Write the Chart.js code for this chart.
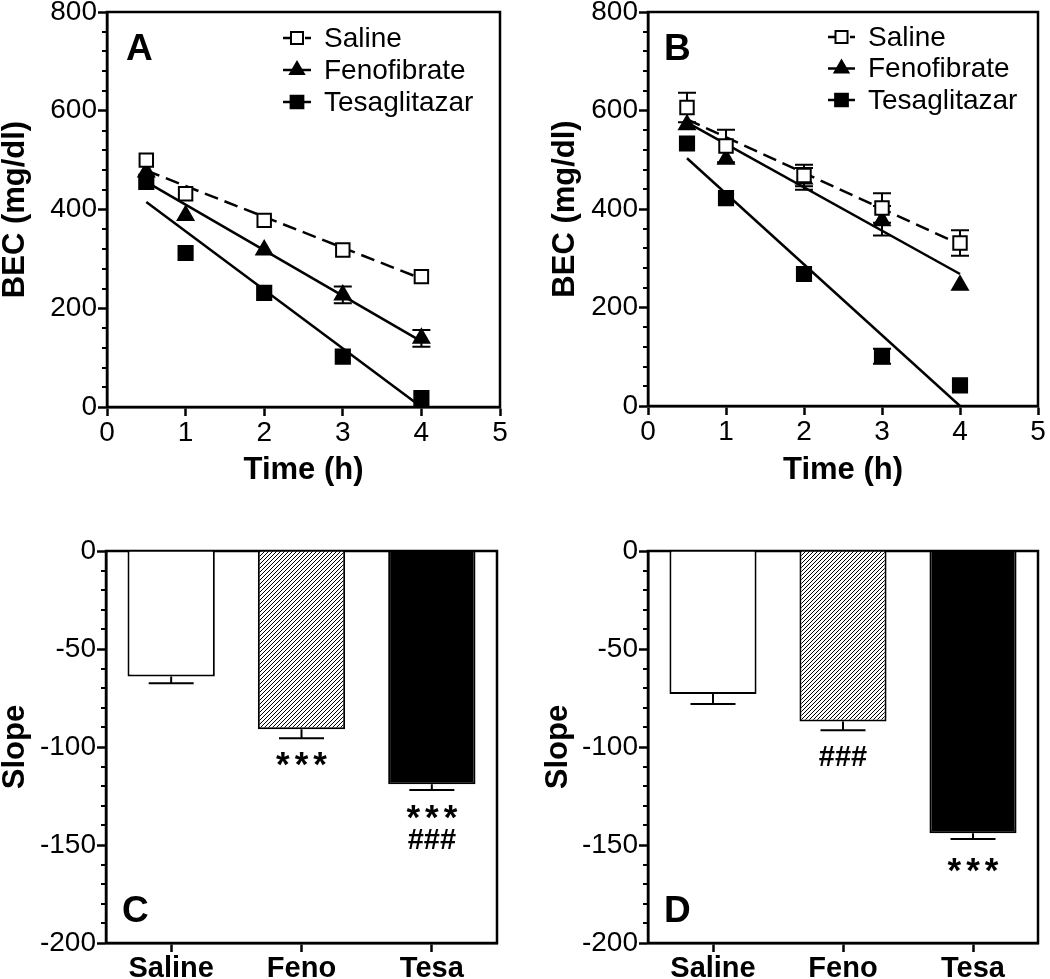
<!DOCTYPE html>
<html>
<head>
<meta charset="utf-8">
<script src="https://cdn.jsdelivr.net/npm/chart.js@4.4.1/dist/chart.umd.min.js"></script>
<style>
  html, body { margin: 0; padding: 0; background: #fff; }
  #wrap { position: relative; width: 1050px; height: 979px; overflow: hidden; }
  .panel { position: absolute; }
  .panel canvas { display: block; }
</style>
</head>
<body>
<div id="wrap">
  <div class="panel" style="left:0;top:0"><canvas id="panelA" width="525" height="500"></canvas></div>
  <div class="panel" style="left:525px;top:0"><canvas id="panelB" width="525" height="500"></canvas></div>
  <div class="panel" style="left:0;top:500px"><canvas id="panelC" width="525" height="479"></canvas></div>
  <div class="panel" style="left:525px;top:500px"><canvas id="panelD" width="525" height="479"></canvas></div>
</div>
<script>
// ---- data ----
const times = [0.5, 1, 2, 3, 4];
const groups = ['Saline', 'Fenofibrate', 'Tesaglitazar'];
const fitX = [0.5, 4];

// panel A: blood ethanol (mg/dl)
const salineA = [500, 432, 378, 318, 264];
const fenoA   = [476, 388, 318, 227, 139];
const tesaA   = [456, 312, 231, 102, 18];
const salineA_sem = [0, 0, 0, 0, 0];
const fenoA_sem   = [0, 0, 0, 17, 17];
const tesaA_sem   = [0, 0, 0, 0, 0];
const salineA_fit = [479, 260];
const fenoA_fit   = [456, 133];
const tesaA_fit   = [415, 0];

// panel B
const salineB = [606, 528, 468, 402, 331];
const fenoB   = [571, 501, 461, 376, 245];
const tesaB   = [533, 422, 268, 101, 42];
const salineB_sem = [30, 33, 22, 30, 26];
const fenoB_sem   = [0, 0, 22, 30, 0];
const tesaB_sem   = [0, 0, 0, 15, 0];
const salineB_fit = [582, 328];
const fenoB_fit   = [576, 268];
const tesaB_fit   = [503, 0];

// panels C / D: elimination slope
const barLabels = ['Saline', 'Feno', 'Tesa'];
const slopeC     = [-64, -91, -119];
const slopeC_sem = [3.5, 4.5, 3];
const slopeD     = [-73, -87, -144];
const slopeD_sem = [5, 4.5, 3];

// significance marks: [bar index, value at glyph centre, text]
const marksC = [[1, -106, '***'], [2, -133, '***'], [2, -147, '###']];
const marksD = [[1, -104.5, '###'], [2, -160, '***']];

// ---- helpers ----
const FONT = '"Liberation Sans", Arial, Helvetica, sans-serif';
const AXIS_W = 2.5;

function hatch() {
    const c = document.createElement('canvas');
    c.width = 4; c.height = 4;
    const g = c.getContext('2d');
    g.fillStyle = '#fff';
    g.fillRect(0, 0, 4, 4);
    g.strokeStyle = '#000';
    g.lineWidth = 1;
    g.beginPath();
    g.moveTo(-1, 5); g.lineTo(5, -1);
    g.moveTo(-1, 1); g.lineTo(1, -1);
    g.moveTo(3, 5); g.lineTo(5, 3);
    g.stroke();
    return g.createPattern(c, 'repeat');
}

// plot box drawn on all four sides
const framePlugin = {
    id: 'frame',
    beforeDatasetsDraw(chart) {
        const { ctx, chartArea: a } = chart;
        ctx.save();
        ctx.strokeStyle = '#000';
        ctx.lineWidth = AXIS_W;
        ctx.strokeRect(a.left, a.top, a.right - a.left, a.bottom - a.top);
        ctx.restore();
    }
};

// short unlabeled ticks on the y axis
const minorPlugin = {
    id: 'minorTicks',
    afterDraw(chart, args, opts) {
        if (!opts.step) return;
        const { ctx, chartArea: a } = chart;
        const y = chart.scales.y;
        ctx.save();
        ctx.strokeStyle = '#000';
        ctx.lineWidth = 2;
        for (let v = y.min; v <= y.max + 1e-9; v += opts.step) {
            if (Math.abs(v % opts.major) < 1e-9) continue;
            const py = Math.round(y.getPixelForValue(v));
            ctx.beginPath();
            ctx.moveTo(a.left - opts.len, py);
            ctx.lineTo(a.left, py);
            ctx.stroke();
        }
        ctx.restore();
    }
};

// SEM whiskers from dataset.sem
function drawWhiskers(chart, opts) {
    const { ctx } = chart;
    const y = chart.scales.y;
    ctx.save();
    ctx.strokeStyle = '#000';
    ctx.lineWidth = 2;
    chart.data.datasets.forEach((ds, di) => {
        if (!ds.sem) return;
        const meta = chart.getDatasetMeta(di);
        meta.data.forEach((el, i) => {
            const s = ds.sem[i];
            if (!s) return;
            const v = ds.data[i].y !== undefined ? ds.data[i].y : ds.data[i];
            const x = el.x;
            const ends = opts.bothSides ? [v + s, v - s] : [v < 0 ? v - s : v + s];
            const from = y.getPixelForValue(v);
            ends.forEach(e => {
                const py = y.getPixelForValue(e);
                ctx.beginPath();
                ctx.moveTo(x, from); ctx.lineTo(x, py);
                ctx.moveTo(x - opts.cap / 2, py); ctx.lineTo(x + opts.cap / 2, py);
                ctx.stroke();
            });
        });
    });
    ctx.restore();
}

const errorPlugin = {
    id: 'errorBars',
    // points: whiskers under the markers; bars: on top of the fill
    beforeDatasetsDraw(chart, args, opts) { if (opts.bothSides) drawWhiskers(chart, opts); },
    afterDatasetsDraw(chart, args, opts) { if (!opts.bothSides) drawWhiskers(chart, opts); }
};

// panel letter, legend, significance marks
const decoPlugin = {
    id: 'deco',
    afterDraw(chart, args, opts) {
        const { ctx } = chart;
        ctx.save();
        ctx.fillStyle = '#000';
        if (opts.letter) {
            ctx.font = 'bold 37px ' + FONT;
            ctx.textBaseline = 'alphabetic';
            ctx.fillText(opts.letter[0], opts.letter[1], opts.letter[2]);
        }
        if (opts.legend) {
            const L = opts.legend;
            ctx.font = '28px ' + FONT;
            ctx.textBaseline = 'middle';
            L.styles.forEach((st, i) => {
                const yy = L.y + i * L.row;
                ctx.strokeStyle = '#000';
                ctx.lineWidth = 2.5;
                ctx.setLineDash(st.dash.length ? [7, 4] : []);
                ctx.beginPath();
                ctx.moveTo(L.x0, yy); ctx.lineTo(L.x1, yy);
                ctx.stroke();
                ctx.setLineDash([]);
                ctx.fillStyle = st.fill;
                ctx.lineWidth = 2;
                Chart.helpers.drawPoint(ctx, { pointStyle: st.pointStyle, radius: st.radius - 1, rotation: 0, borderWidth: 2 },
                    (L.x0 + L.x1) / 2, yy);
                ctx.fillStyle = '#000';
                ctx.fillText(groups[i], L.tx, yy + 1);
            });
        }
        if (opts.marks) {
            const y = chart.scales.y, x = chart.scales.x;
            opts.marks.forEach(([bi, v, txt]) => {
                const star = txt[0] === '*';
                ctx.font = star ? 'bold 35px ' + FONT : 'bold 29px ' + FONT;
                ctx.letterSpacing = star ? '5px' : '0px';
                ctx.textAlign = 'center';
                ctx.textBaseline = 'alphabetic';
                const m = ctx.measureText(txt);
                const cy = y.getPixelForValue(v);
                const base = cy + (m.actualBoundingBoxAscent - m.actualBoundingBoxDescent) / 2;
                ctx.fillText(txt, x.getPixelForValue(bi) + (star ? 2.5 : 0), base);
            });
        }
        ctx.restore();
    }
};

function fixedArea(area, W, H) {
    return {
        layout: { padding: { left: 0, top: area.top, right: W - area.right, bottom: 0 } },
        yFit: s => { s.width = area.left; s.paddingTop = 0; s.paddingBottom = 0; },
        xFit: s => { s.height = H - area.bottom; s.paddingLeft = 0; s.paddingRight = 0; }
    };
}

function axisCommon(fit) {
    return {
        grid: { drawOnChartArea: false, drawTicks: true, tickLength: 9, tickWidth: AXIS_W, tickColor: '#000' },
        border: { display: true, color: '#000', width: AXIS_W },
        afterFit: fit
    };
}

const styles = [
    { pointStyle: 'rect', radius: 9.5, fill: '#fff', dash: [14, 7] },
    { pointStyle: 'triangle', radius: 9, fill: '#000', dash: [] },
    { pointStyle: 'rect', radius: 10, fill: '#000', dash: [] }
];

function timeChart(id, sets, sems, fits, area, titlePad, letter, legend) {
    const W = 525, H = 500;
    const f = fixedArea(area, W, H);
    const datasets = [];
    sets.forEach((vals, g) => {
        datasets.push({
            data: times.map((t, i) => ({ x: t, y: vals[i] })),
            sem: sems[g],
            pointStyle: styles[g].pointStyle,
            pointRadius: styles[g].radius,
            pointBackgroundColor: styles[g].fill,
            pointBorderColor: '#000',
            pointBorderWidth: 2,
            showLine: false
        });
    });
    fits.forEach((fv, g) => {
        datasets.push({
            data: fitX.map((t, i) => ({ x: t, y: fv[i] })),
            showLine: true,
            borderColor: '#000',
            borderWidth: 2.5,
            borderDash: styles[g].dash,
            pointRadius: 0
        });
    });
    const xs = axisCommon(f.xFit);
    const ys = axisCommon(f.yFit);
    new Chart(document.getElementById(id), {
        type: 'scatter',
        data: { datasets },
        options: {
            responsive: false,
            animation: false,
            layout: f.layout,
            plugins: {
                legend: { display: false },
                tooltip: { enabled: false },
                minorTicks: { step: 40, major: 200, len: 5 },
                errorBars: { cap: 18, bothSides: true },
                deco: { letter, legend }
            },
            scales: {
                x: Object.assign(xs, {
                    type: 'linear', min: 0, max: 5,
                    ticks: { stepSize: 1, color: '#000', padding: 0, font: { family: FONT, size: 28 } },
                    title: { display: true, text: 'Time (h)', color: '#000', padding: { top: 0, bottom: 14 },
                             font: { family: FONT, size: 31, weight: 'bold', lineHeight: 1.0 } }
                }),
                y: Object.assign(ys, {
                    min: 0, max: 800,
                    ticks: { stepSize: 200, color: '#000', padding: 1, font: { family: FONT, size: 28 } },
                    title: { display: true, text: 'BEC (mg/dl)', color: '#000', padding: { top: titlePad, bottom: 0 },
                             font: { family: FONT, size: 31, weight: 'bold', lineHeight: 1.0 } }
                })
            }
        },
        plugins: [framePlugin, minorPlugin, errorPlugin, decoPlugin]
    });
}

function slopeChart(id, vals, sems, area, titlePad, letter, marks) {
    const W = 525, H = 479;
    const f = fixedArea(area, W, H);
    const xs = axisCommon(f.xFit);
    xs.grid.offset = false;
    const ys = axisCommon(f.yFit);
    new Chart(document.getElementById(id), {
        type: 'bar',
        data: {
            labels: barLabels,
            datasets: [{
                data: vals,
                sem: sems,
                backgroundColor: ['#fff', hatch(), '#000'],
                borderColor: '#000',
                borderWidth: 2,
                borderSkipped: 'start',
                categoryPercentage: 1,
                barPercentage: 0.67
            }]
        },
        options: {
            responsive: false,
            animation: false,
            layout: f.layout,
            plugins: {
                legend: { display: false },
                tooltip: { enabled: false },
                minorTicks: { step: 10, major: 50, len: 5 },
                errorBars: { cap: 45, bothSides: false },
                deco: { letter, marks }
            },
            scales: {
                x: Object.assign(xs, {
                    ticks: { color: '#000', padding: 0, font: { family: FONT, size: 29, weight: 'bold' } }
                }),
                y: Object.assign(ys, {
                    min: -200, max: 0,
                    ticks: { stepSize: 50, color: '#000', padding: 1, font: { family: FONT, size: 28 } },
                    title: { display: true, text: 'Slope', color: '#000', padding: { top: titlePad, bottom: 0 },
                             font: { family: FONT, size: 31, weight: 'bold', lineHeight: 1.0 } }
                })
            }
        },
        plugins: [framePlugin, minorPlugin, errorPlugin, decoPlugin]
    });
}

timeChart('panelA', [salineA, fenoA, tesaA], [salineA_sem, fenoA_sem, tesaA_sem],
    [salineA_fit, fenoA_fit, tesaA_fit],
    { left: 107, top: 11, right: 500, bottom: 407 }, 0, ['A', 126, 60],
    { x0: 283, x1: 311, tx: 324, y: 38, row: 32, styles });

timeChart('panelB', [salineB, fenoB, tesaB], [salineB_sem, fenoB_sem, tesaB_sem],
    [salineB_fit, fenoB_fit, tesaB_fit],
    { left: 123, top: 11, right: 516, bottom: 406 }, 25, ['B', 139, 60],
    { x0: 303, x1: 330, tx: 343, y: 37, row: 31.5, styles });

slopeChart('panelC', slopeC, slopeC_sem, { left: 106, top: 51, right: 497, bottom: 443 }, 0,
    ['C', 122, 422], marksC);

slopeChart('panelD', slopeD, slopeD_sem, { left: 123, top: 51, right: 513, bottom: 443 }, 18,
    ['D', 139, 422], marksD);
</script>
</body>
</html>
